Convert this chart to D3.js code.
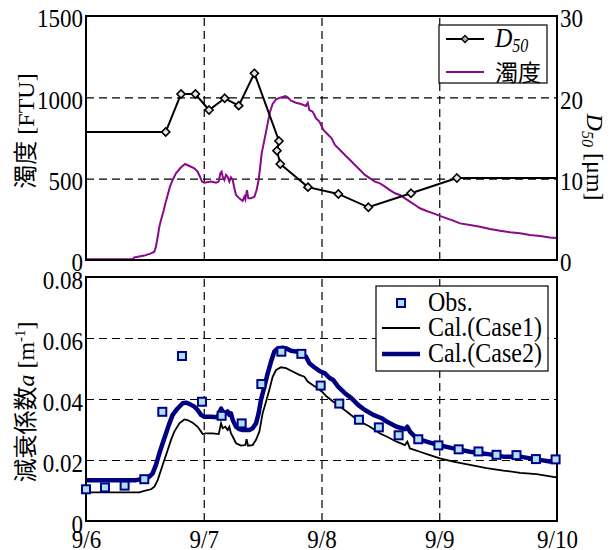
<!DOCTYPE html>
<html><head><meta charset="utf-8">
<script src="https://cdn.jsdelivr.net/npm/d3@7/dist/d3.min.js"></script>
<style>body{margin:0;background:#fff} .sf{font-family:"Liberation Serif","Times New Roman",serif} .cj{font-family:"Noto Sans CJK JP","Noto Sans CJK SC",sans-serif}</style>
</head><body>
<svg id="chart" width="615" height="550"></svg>
<script>
// ---------- data (time in days since 9/6 00:00) ----------
const xTickDays = [0, 1, 2, 3, 4];
const xTickLabels = ["9/6", "9/7", "9/8", "9/9", "9/10"];
const turbTicks = [0, 500, 1000, 1500];
const d50Ticks = [0, 10, 20, 30];
const attTicks = [0, 0.02, 0.04, 0.06, 0.08];
const attTickLabels = ["0", "0.02", "0.04", "0.06", "0.08"];

const d50Time  = [0.677, 0.807, 0.929, 1.045, 1.178, 1.297, 1.430, 1.639, 1.622, 1.650, 1.885, 2.143, 2.398, 2.760, 3.150];
const d50Value = [15.74, 20.41, 20.41, 18.44, 19.88, 18.98, 22.95, 14.63, 13.44, 11.80, 8.96, 8.12, 6.48, 8.20, 10.08];

const turbTime = [0, 0.396, 0.410, 0.495, 0.552, 0.580, 0.594, 0.609, 0.623, 0.637, 0.657, 0.674, 0.694, 0.713, 0.736, 0.764,
  0.807, 0.841, 0.878, 0.920, 0.948, 0.968, 0.985, 1.005, 1.062, 1.104, 1.127, 1.141, 1.152, 1.161, 1.175, 1.189, 1.203,
  1.217, 1.231, 1.246, 1.260, 1.274, 1.302, 1.330, 1.345, 1.353, 1.367, 1.379, 1.401, 1.430, 1.449, 1.466, 1.478, 1.492,
  1.515, 1.543, 1.563, 1.585, 1.614, 1.656, 1.693, 1.713, 1.741, 1.783, 1.826, 1.868, 1.883, 1.897, 1.925, 1.953, 1.982,
  2.016, 2.044, 2.086, 2.114, 2.157, 2.199, 2.242, 2.284, 2.327, 2.369, 2.412, 2.454, 2.497, 2.539, 2.581, 2.624, 2.666,
  2.709, 2.751, 2.794, 2.836, 2.893, 2.950, 3.006, 3.063, 3.119, 3.176, 3.261, 3.346, 3.431, 3.516, 3.601, 3.686, 3.770,
  3.855, 3.940, 4.0];
const turbValue = [4, 4, 16, 27, 41, 51, 82, 143, 205, 246, 297, 348, 400, 451, 492, 533,
  570, 590, 578, 564, 543, 512, 482, 475, 482, 475, 482, 533, 543, 512, 492, 523, 512,
  482, 508, 492, 441, 400, 379, 363, 389, 373, 430, 379, 379, 389, 430, 492, 564, 656,
  738, 840, 912, 959, 988, 1000, 1008, 1000, 980, 967, 959, 947, 967, 922, 912, 871, 851,
  799, 779, 748, 707, 676, 646, 615, 584, 553, 523, 502, 482, 471, 451, 430, 410, 400,
  379, 359, 338, 318, 301, 287, 271, 256, 242, 225, 215, 205, 191, 180, 170, 164, 154,
  148, 139, 135];

const obsTime  = [0, 0.161, 0.328, 0.495, 0.648, 0.815, 0.985, 1.152, 1.322, 1.489, 1.659, 1.829, 1.993, 2.151, 2.318,
  2.487, 2.655, 2.822, 2.993, 3.165, 3.333, 3.486, 3.656, 3.821, 3.988];
const obsValue = [0.0104, 0.0110, 0.0116, 0.0137, 0.0358, 0.0541, 0.0391, 0.0345, 0.0320, 0.0449, 0.0555, 0.0548, 0.0444,
  0.0385, 0.0332, 0.0307, 0.0281, 0.0268, 0.0248, 0.0235, 0.0228, 0.0217, 0.0216, 0.0203, 0.0202];

const case1Time = [0, 0.453, 0.495, 0.552, 0.580, 0.609, 0.637, 0.665, 0.694, 0.722, 0.750, 0.793, 0.835, 0.863, 0.906,
  0.948, 0.977, 0.991, 1.019, 1.076, 1.127, 1.147, 1.161, 1.183, 1.203, 1.217, 1.231, 1.246, 1.274, 1.316, 1.353, 1.364,
  1.376, 1.415, 1.444, 1.472, 1.500, 1.529, 1.557, 1.585, 1.614, 1.656, 1.699, 1.755, 1.812, 1.854, 1.883, 1.925, 1.967,
  2.004, 2.044, 2.100, 2.157, 2.213, 2.270, 2.327, 2.412, 2.497, 2.553, 2.638, 2.709, 2.729, 2.751, 2.836, 2.921, 3.006,
  3.119, 3.261, 3.402, 3.544, 3.615, 3.686, 3.827, 3.968, 4.0];
const case1Value = [0.0094, 0.0094, 0.0099, 0.0104, 0.0112, 0.0134, 0.0167, 0.0200, 0.0233, 0.0266, 0.0293, 0.0320, 0.0333,
  0.0331, 0.0322, 0.0309, 0.0293, 0.0285, 0.0287, 0.0287, 0.0285, 0.0320, 0.0304, 0.0309, 0.0298, 0.0309, 0.0287, 0.0277,
  0.0255, 0.0247, 0.0249, 0.0268, 0.0247, 0.0249, 0.0266, 0.0293, 0.0353, 0.0391, 0.0430, 0.0473, 0.0495, 0.0504, 0.0501,
  0.0490, 0.0479, 0.0473, 0.0457, 0.0446, 0.0435, 0.0424, 0.0408, 0.0391, 0.0375, 0.0359, 0.0342, 0.0326, 0.0309, 0.0287,
  0.0277, 0.0260, 0.0249, 0.0260, 0.0238, 0.0227, 0.0216, 0.0205, 0.0195, 0.0184, 0.0173, 0.0165, 0.0162, 0.0158, 0.0154,
  0.0145, 0.0143];

const case2Time = [0, 0.425, 0.481, 0.538, 0.566, 0.594, 0.623, 0.651, 0.679, 0.708, 0.736, 0.778, 0.821, 0.849, 0.878,
  0.920, 0.948, 0.977, 1.005, 1.062, 1.118, 1.147, 1.161, 1.189, 1.203, 1.217, 1.231, 1.246, 1.274, 1.302, 1.331, 1.359,
  1.387, 1.415, 1.444, 1.466, 1.486, 1.515, 1.543, 1.571, 1.599, 1.628, 1.670, 1.699, 1.741, 1.798, 1.840, 1.868, 1.897,
  1.939, 1.982, 2.029, 2.072, 2.100, 2.143, 2.199, 2.256, 2.313, 2.369, 2.440, 2.511, 2.553, 2.638, 2.709, 2.729, 2.751,
  2.808, 2.893, 2.992, 3.119, 3.261, 3.402, 3.544, 3.686, 3.827, 3.940, 4.0];
const case2Value = [0.0134, 0.0134, 0.0138, 0.0145, 0.0156, 0.0184, 0.0222, 0.0255, 0.0287, 0.0320, 0.0348, 0.0369, 0.0386,
  0.0388, 0.0384, 0.0375, 0.0364, 0.0348, 0.0342, 0.0342, 0.0340, 0.0369, 0.0359, 0.0353, 0.0359, 0.0348, 0.0353, 0.0331,
  0.0309, 0.0301, 0.0298, 0.0298, 0.0298, 0.0304, 0.0320, 0.0353, 0.0397, 0.0440, 0.0484, 0.0522, 0.0555, 0.0566, 0.0568,
  0.0566, 0.0558, 0.0555, 0.0544, 0.0539, 0.0517, 0.0504, 0.0492, 0.0484, 0.0468, 0.0462, 0.0440, 0.0419, 0.0402, 0.0380,
  0.0364, 0.0348, 0.0337, 0.0326, 0.0309, 0.0301, 0.0309, 0.0293, 0.0271, 0.0260, 0.0249, 0.0238, 0.0227, 0.0220, 0.0211,
  0.0211, 0.0202, 0.0195, 0.0200];

// ---------- chart ----------
const svg = d3.select("#chart");
const FS = 23;
const SY = 1.14; // vertical stretch of serif glyphs seen in the reference

const x = d3.scaleLinear().domain([0, 4]).range([86, 557]);
const yTurb = d3.scaleLinear().domain([0, 1500]).range([260, 16]);
const yD50 = d3.scaleLinear().domain([0, 30]).range([260, 16]);
const yAtt = d3.scaleLinear().domain([0, 0.08]).range([521, 277]);

const zip = (t, v) => t.map((d, i) => ({ t: d, v: v[i] }));
const turb = zip(turbTime, turbValue);
const d50 = zip(d50Time, d50Value);
const obs = zip(obsTime, obsValue);
const case1 = zip(case1Time, case1Value);
const case2 = zip(case2Time, case2Value);

function grid(y, yTop, yBot, hVals) {
  const g = svg.append("g");
  g.append("g").attr("transform", `translate(0,${yBot})`)
    .call(d3.axisBottom(x).tickValues([1, 2, 3]).tickSize(-(yBot - yTop)).tickFormat(""));
  g.append("g").attr("transform", `translate(${x(0)},0)`)
    .call(d3.axisLeft(y).tickValues(hVals).tickSize(-(x(4) - x(0))).tickFormat(""));
  g.selectAll(".domain").remove();
  g.selectAll("line").attr("stroke", "#000").attr("stroke-width", 1.2).attr("stroke-dasharray", "8,5");
}

function styleTicks(g) {
  g.attr("font-family", null).attr("font-size", null);
  g.select(".domain").remove();
  g.selectAll("text").attr("class", "sf").style("font-size", FS + "px").attr("fill", "#000")
    .attr("transform", `scale(1,${SY})`);
}

// ===== top panel =====
grid(yTurb, 16, 260, [500, 1000]);

svg.append("path").datum(turb)
  .attr("fill", "none").attr("stroke", "#8a0a8a").attr("stroke-width", 2)
  .attr("d", d3.line().x(d => x(d.t)).y(d => yTurb(d.v)));

const d50Line = [{ t: 0, v: d50[0].v }, ...d50, { t: 4, v: d50[d50.length - 1].v }];
svg.append("path").datum(d50Line)
  .attr("fill", "none").attr("stroke", "#000").attr("stroke-width", 2)
  .attr("d", d3.line().x(d => x(d.t)).y(d => yD50(d.v)));

svg.append("rect").attr("x", x(0)).attr("y", 16).attr("width", x(4) - x(0)).attr("height", 244)
  .attr("fill", "none").attr("stroke", "#000").attr("stroke-width", 2);

const diamond = d3.symbol().type(d3.symbolDiamond2).size(42);
svg.append("g").selectAll("path").data(d50).join("path")
  .attr("transform", d => `translate(${x(d.t)},${yD50(d.v)})`)
  .attr("d", diamond).attr("fill", "#e6e6e6").attr("stroke", "#000").attr("stroke-width", 1.6);

const axL1 = svg.append("g").attr("transform", `translate(${x(0)},0)`)
  .call(d3.axisLeft(yTurb).tickValues(turbTicks).tickSize(0).tickPadding(3).tickFormat(d => String(d)));
styleTicks(axL1); axL1.selectAll("text").attr("dy", 9.5);

const axR1 = svg.append("g").attr("transform", `translate(${x(4)},0)`)
  .call(d3.axisRight(yD50).tickValues(d50Ticks).tickSize(0).tickPadding(3).tickFormat(d => String(d)));
styleTicks(axR1); axR1.selectAll("text").attr("dy", 9.5);

// left label top
const lt = svg.append("text").attr("transform", "translate(34,131) rotate(-90)")
  .attr("text-anchor", "middle").style("font-size", "24px");
lt.append("tspan").attr("class", "cj").text("濁度");
lt.append("tspan").attr("class", "sf").text(" [FTU]");

// right label
const rt = svg.append("text").attr("class", "sf").attr("transform", "translate(587,157) rotate(90)")
  .attr("text-anchor", "middle").style("font-size", "24px");
rt.append("tspan").attr("font-style", "italic").text("D");
rt.append("tspan").attr("font-style", "italic").style("font-size", "16px").attr("dy", 5).text("50");
rt.append("tspan").attr("dy", -5).text(" [μm]");

// top legend
const lg1 = svg.append("g");
lg1.append("rect").attr("x", 439).attr("y", 25).attr("width", 108).attr("height", 58)
  .attr("fill", "#fff").attr("stroke", "#000").attr("stroke-width", 1.2);
lg1.append("line").attr("x1", 446).attr("x2", 484).attr("y1", 39).attr("y2", 39)
  .attr("stroke", "#000").attr("stroke-width", 2);
lg1.append("path").attr("transform", "translate(465,39)").attr("d", d3.symbol().type(d3.symbolDiamond2).size(32))
  .attr("fill", "#aaa").attr("stroke", "#000").attr("stroke-width", 1.2);
const lgT = lg1.append("text").attr("class", "sf").attr("transform", `translate(495,47) scale(1,${SY})`)
  .style("font-size", "24px").attr("font-style", "italic");
lgT.append("tspan").text("D");
lgT.append("tspan").style("font-size", "16px").attr("dy", 4).text("50");
lg1.append("line").attr("x1", 446).attr("x2", 484).attr("y1", 72).attr("y2", 72)
  .attr("stroke", "#8a0a8a").attr("stroke-width", 2);
lg1.append("text").attr("class", "cj").attr("x", 495).attr("y", 81).style("font-size", "23px").text("濁度");

// ===== bottom panel =====
grid(yAtt, 277, 521, [0.02, 0.04, 0.06]);

svg.append("path").datum(case1)
  .attr("fill", "none").attr("stroke", "#000").attr("stroke-width", 1.8)
  .attr("d", d3.line().x(d => x(d.t)).y(d => yAtt(d.v)));
svg.append("path").datum(case2)
  .attr("fill", "none").attr("stroke", "#000080").attr("stroke-width", 4.5).attr("stroke-linejoin", "round")
  .attr("d", d3.line().x(d => x(d.t)).y(d => yAtt(d.v)));

svg.append("rect").attr("x", x(0)).attr("y", 277).attr("width", x(4) - x(0)).attr("height", 244)
  .attr("fill", "none").attr("stroke", "#000").attr("stroke-width", 2);

svg.append("g").selectAll("rect").data(obs).join("rect")
  .attr("x", d => x(d.t) - 4).attr("y", d => yAtt(d.v) - 4).attr("width", 8).attr("height", 8)
  .attr("fill", "#aee0ee").attr("stroke", "#00008b").attr("stroke-width", 2);

const axL2 = svg.append("g").attr("transform", `translate(${x(0)},0)`)
  .call(d3.axisLeft(yAtt).tickValues(attTicks).tickSize(0).tickPadding(3)
    .tickFormat((d, i) => attTickLabels[i]));
styleTicks(axL2); axL2.selectAll("text").attr("dy", 10);

const axB = svg.append("g").attr("transform", `translate(0,521)`)
  .call(d3.axisBottom(x).tickValues(xTickDays).tickSize(0).tickFormat((d, i) => xTickLabels[i]));
styleTicks(axB); axB.selectAll("text").attr("y", 24).attr("dy", null);

// left label bottom
const lb = svg.append("text").attr("transform", "translate(34,402) rotate(-90)")
  .attr("text-anchor", "middle").style("font-size", "24px");
lb.append("tspan").attr("class", "cj").text("減衰係数");
lb.append("tspan").attr("class", "sf").attr("font-style", "italic").text("a");
lb.append("tspan").attr("class", "sf").text(" [m");
lb.append("tspan").attr("class", "sf").style("font-size", "15px").attr("dy", -9).text("-1");
lb.append("tspan").attr("class", "sf").attr("dy", 9).text("]");

// bottom legend
const lg2 = svg.append("g");
lg2.append("rect").attr("x", 376).attr("y", 286).attr("width", 172).attr("height", 85)
  .attr("fill", "#fff").attr("stroke", "#000").attr("stroke-width", 1.2);
lg2.append("rect").attr("x", 397).attr("y", 299).attr("width", 8).attr("height", 8)
  .attr("fill", "#aee0ee").attr("stroke", "#00008b").attr("stroke-width", 2);
lg2.append("line").attr("x1", 382).attr("x2", 420).attr("y1", 328).attr("y2", 328)
  .attr("stroke", "#000").attr("stroke-width", 2);
lg2.append("line").attr("x1", 382).attr("x2", 420).attr("y1", 354).attr("y2", 354)
  .attr("stroke", "#000080").attr("stroke-width", 4.5);
[["Obs.", 311], ["Cal.(Case1)", 336], ["Cal.(Case2)", 362]].forEach(([t, yy]) =>
  lg2.append("text").attr("class", "sf").attr("transform", `translate(428,${yy}) scale(1,${SY})`)
    .style("font-size", "24px").text(t));
</script>
</body></html>
